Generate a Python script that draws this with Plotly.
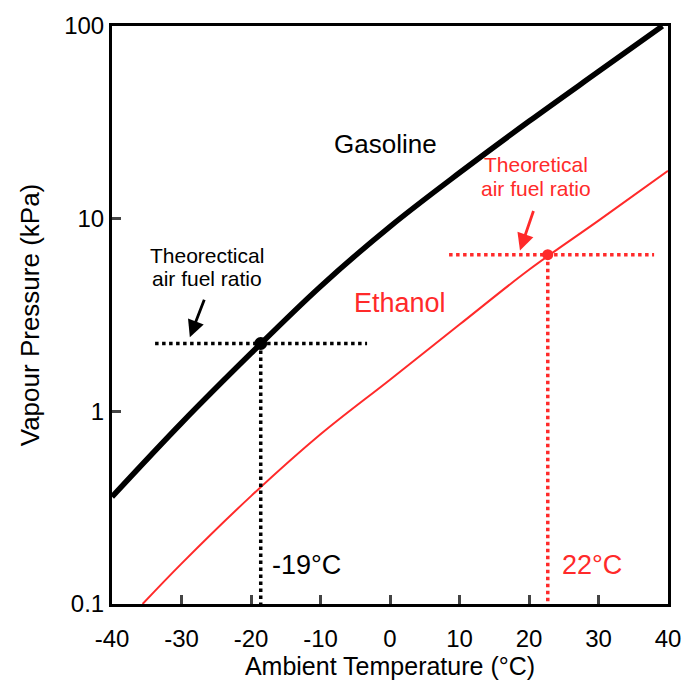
import plotly.graph_objects as go

# Data
gas_t = [-40, -30, -20, -10, 0, 10, 20, 30, 39.2]
gas_p = [0.36, 0.87, 2.0, 4.45, 9.1, 17.3, 32.0, 58.0, 100.0]
eth_t = [-35.6, -30, -20, -10, 0, 10, 20, 30, 40]
eth_p = [0.1, 0.162, 0.363, 0.76, 1.46, 2.82, 5.43, 9.77, 17.7]

gas_point_t, gas_point_p = -18.6, 2.25
eth_point_t, eth_point_p = 22.7, 6.5
gas_hline_t = [-33.8, -3.3]
eth_hline_t = [8.5, 38.0]

x_ticks = [-40, -30, -20, -10, 0, 10, 20, 30, 40]
x_ticklabels = ["-40", "-30", "-20", "-10", "0", "10", "20", "30", "40"]
y_ticks = [0.1, 1, 10, 100]
y_ticklabels = ["0.1", "1", "10", "100"]

FONT = "Liberation Sans, Arial, sans-serif"
RED = "#ff2a2a"

fig = go.Figure()
fig.add_trace(go.Scatter(x=gas_t, y=gas_p, mode="lines", line=dict(color="black", width=5.5, shape="spline", smoothing=1.0), hoverinfo="skip"))
fig.add_trace(go.Scatter(x=eth_t, y=eth_p, mode="lines", line=dict(color=RED, width=2, shape="spline", smoothing=1.0), hoverinfo="skip"))

# dotted guide lines
fig.add_trace(go.Scatter(x=gas_hline_t, y=[gas_point_p, gas_point_p], mode="lines", line=dict(color="black", width=3.5, dash="dot")))
fig.add_trace(go.Scatter(x=[gas_point_t, gas_point_t], y=[gas_point_p, 0.1], mode="lines", line=dict(color="black", width=3.5, dash="dot")))
fig.add_trace(go.Scatter(x=eth_hline_t, y=[eth_point_p, eth_point_p], mode="lines", line=dict(color=RED, width=3.5, dash="dot")))
fig.add_trace(go.Scatter(x=[eth_point_t, eth_point_t], y=[eth_point_p, 0.1], mode="lines", line=dict(color=RED, width=3.5, dash="dot")))
fig.add_trace(go.Scatter(x=[gas_point_t], y=[gas_point_p], mode="markers", marker=dict(color="black", size=13)))
fig.add_trace(go.Scatter(x=[eth_point_t], y=[eth_point_p], mode="markers", marker=dict(color=RED, size=11)))

ann = []
ann.append(dict(x=-0.7, y=1.385, text="Gasoline", showarrow=False, font=dict(size=26, color="black")))
ann.append(dict(x=1.4, y=0.56, text="Ethanol", showarrow=False, font=dict(size=27, color=RED)))
ann.append(dict(x=-26.4, y=0.81, text="Theorectical", showarrow=False, font=dict(size=21, color="black")))
ann.append(dict(x=-26.4, y=0.69, text="air fuel ratio", showarrow=False, font=dict(size=21, color="black")))
ann.append(dict(x=21.0, y=1.28, text="Theoretical", showarrow=False, font=dict(size=21, color=RED)))
ann.append(dict(x=21.0, y=1.155, text="air fuel ratio", showarrow=False, font=dict(size=21, color=RED)))
ann.append(dict(x=-17.3, y=-0.80, text="-19°C", showarrow=False, xanchor="left", font=dict(size=27, color="black")))
ann.append(dict(x=24.5, y=-0.80, text="22°C", showarrow=False, xanchor="left", font=dict(size=27, color=RED)))
# arrows
ann.append(dict(x=-28.8, y=0.385, text="", showarrow=True, ax=15, ay=-39, arrowhead=2, arrowsize=1.2, arrowwidth=2.8, arrowcolor="black"))
ann.append(dict(x=18.7, y=0.835, text="", showarrow=True, ax=14, ay=-41, arrowhead=2, arrowsize=1.2, arrowwidth=2.8, arrowcolor=RED))
for a in ann:
    a.update(xref="x", yref="y")

fig.update_layout(
    width=694, height=691,
    margin=dict(l=112, r=26, t=20, b=87),
    paper_bgcolor="white", plot_bgcolor="white",
    showlegend=False,
    font=dict(family=FONT, size=20, color="black"),
    annotations=ann,
)
fig.update_xaxes(range=[-40, 40], tickvals=x_ticks, ticktext=x_ticklabels, ticks="inside", ticklen=9, tickwidth=2.5,
                 showline=True, linewidth=3, linecolor="black", mirror=True, showgrid=False, zeroline=False,
                 ticklabelstandoff=11,
                 title=dict(text="Ambient Temperature (°C)", font=dict(size=25), standoff=5),
                 tickfont=dict(size=24))
fig.update_yaxes(type="log", range=[-1, 2], tickvals=y_ticks, ticktext=y_ticklabels, ticks="inside", ticklen=9, tickwidth=2.5,
                 showline=True, linewidth=3, linecolor="black", mirror=True, showgrid=False, zeroline=False,
                 title=dict(text="Vapour Pressure (kPa)", font=dict(size=26), standoff=18),
                 tickfont=dict(size=24))

fig.write_html("out.html")
